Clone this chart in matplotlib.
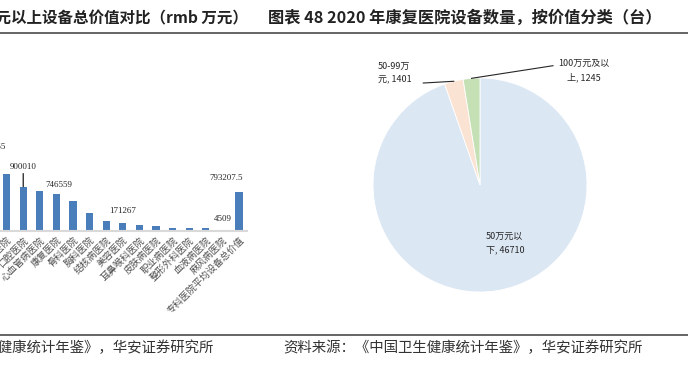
import numpy as np
import matplotlib
matplotlib.use('agg')
import matplotlib.pyplot as plt
from matplotlib.lines import Line2D

plt.rcParams['font.family'] = ['Noto Sans CJK SC', 'DejaVu Sans']

W, H = 688, 369

# left chart (cut off at the page edge): equipment value by hospital type, rmb 10k
hospitals = ["眼科医院", "儿童医院", "口腔医院", "心血管病医院", "康复医院", "骨科医院",
             "胸科医院", "结核病医院", "美容医院", "耳鼻喉科医院", "皮肤病医院",
             "职业病医院", "整形外科医院", "血液病医院", "麻风病医院",
             "专科医院平均设备总价值"]
equip_value = [1521655, 1157000, 900010, 812000, 746559, 609000, 365000, 203000,
               171267, 122000, 101000, 61000, 59000, 55000, 4509, 793207.5]
labelled = [0, 2, 4, 8, 14, 15]
value_text = ["1521655", "900010", "746559", "171267", "4509", "793207.5"]

# right chart: 2020 rehab hospital equipment count by unit value
pie_cats = ["50万元以下", "50-99万元", "100万元及以上"]
pie_counts = [46710, 1401, 1245]
pie_colors = ["#dce7f4", "#fbe3d4", "#c6e0b5"]


def fx(px):
    return px / W


def fy(py):
    return 1 - py / H


fig = plt.figure(figsize=(W / 100, H / 100), dpi=100)

# ---- bar chart
pitch = 16.6
ax = fig.add_axes([fx(-10 - 0.5 * pitch), fy(231), fx(len(hospitals) * pitch),
                   88.5 / H])
x = np.arange(len(hospitals))
ax.bar(x, equip_value, width=0.44, color="#4a7ebb", zorder=2)
ax.set_xlim(-0.5, len(hospitals) - 0.5)
ax.set_ylim(0, 1800000)
for s in ["top", "right", "left"]:
    ax.spines[s].set_visible(False)
ax.spines["bottom"].set_color("#d9d9d9")
ax.spines["bottom"].set_linewidth(1.5)
ax.set_yticks([])
ax.set_xticks(x)
ax.set_xticklabels(hospitals, rotation=45, ha="right", rotation_mode="anchor",
                   fontsize=6.8, color="#505050")
ax.tick_params(axis="x", length=0, pad=3)

# label offsets in px (dx, dy above bar top)
offs = {0: (0, 9.5), 2: (0, 20), 4: (2, 9), 8: (0, 12), 14: (0, 12), 15: (-12.5, 14)}
for i, t in zip(labelled, value_text):
    dx, dy = offs[i]
    kw = {}
    if i == 2:
        kw["arrowprops"] = dict(arrowstyle="-", color="black", lw=0.8,
                                shrinkA=0, shrinkB=0)
    ax.annotate(t, xy=(i, equip_value[i]), xytext=(dx * 0.72, dy * 0.72),
                textcoords="offset points", ha="center", va="center",
                fontsize=6.5, family="Liberation Serif", color="#262626",
                annotation_clip=False, **kw)

# ---- pie chart
ax2 = fig.add_axes([fx(373), fy(292), fx(214), 214 / H])
wedges, _ = ax2.pie(pie_counts, colors=pie_colors, startangle=90, counterclock=False,
                    wedgeprops=dict(edgecolor="white", linewidth=0.6))
ax2.set_xlim(-1, 1)
ax2.set_ylim(-1, 1)


def mid_point(w):
    a = np.deg2rad((w.theta1 + w.theta2) / 2)
    return np.cos(a), np.sin(a)


ax2.text(0.234, -0.542, f"50万元以\n下, {pie_counts[0]}", ha="center", va="center",
         multialignment="left", fontsize=6.5, color="#262626", linespacing=1.6)
ax2.annotate(f"50-99万\n元, {pie_counts[1]}", xy=mid_point(wedges[1]),
             xytext=(-0.953, 1.051), ha="left", va="center", multialignment="left",
             fontsize=6.5, color="#262626", linespacing=1.6, annotation_clip=False)
ax2.add_line(Line2D([-0.53, mid_point(wedges[1])[0]], [0.953, mid_point(wedges[1])[1]],
                    color="#262626", lw=0.8, clip_on=False))
ax2.annotate(f"100万元及以\n上, {pie_counts[2]}", xy=mid_point(wedges[2]),
             xytext=(0.972, 1.07), ha="center", va="center", multialignment="center",
             fontsize=6.5, color="#262626", linespacing=1.6, annotation_clip=False)
ax2.add_line(Line2D([mid_point(wedges[2])[0], 0.682], [mid_point(wedges[2])[1], 1.115],
                    color="#262626", lw=0.8, clip_on=False))

# ---- page furniture
fig.text(fx(248), fy(18), "图表 47 2020 年各专科医院万元以上设备总价值对比（rmb 万元）",
         ha="right", va="center", fontsize=11.2, fontweight="bold", color="#222222")
fig.text(fx(268), fy(18), "图表 48 2020 年康复医院设备数量，按价值分类（台）",
         ha="left", va="center", fontsize=11.7, fontweight="bold", color="#222222")
fig.add_artist(Line2D([0, 1], [fy(32.5)] * 2, color="#3a3a3a", lw=1.1))
fig.add_artist(Line2D([0, 1], [fy(335)] * 2, color="#3a3a3a", lw=1.1))
fig.text(fx(214), fy(348), "资料来源：《中国卫生健康统计年鉴》，华安证券研究所",
         ha="right", va="center", fontsize=10.4, color="#333333")
fig.text(fx(283), fy(348), "资料来源：《中国卫生健康统计年鉴》，华安证券研究所",
         ha="left", va="center", fontsize=10.4, color="#333333")

fig.savefig("out.png", dpi=100)
